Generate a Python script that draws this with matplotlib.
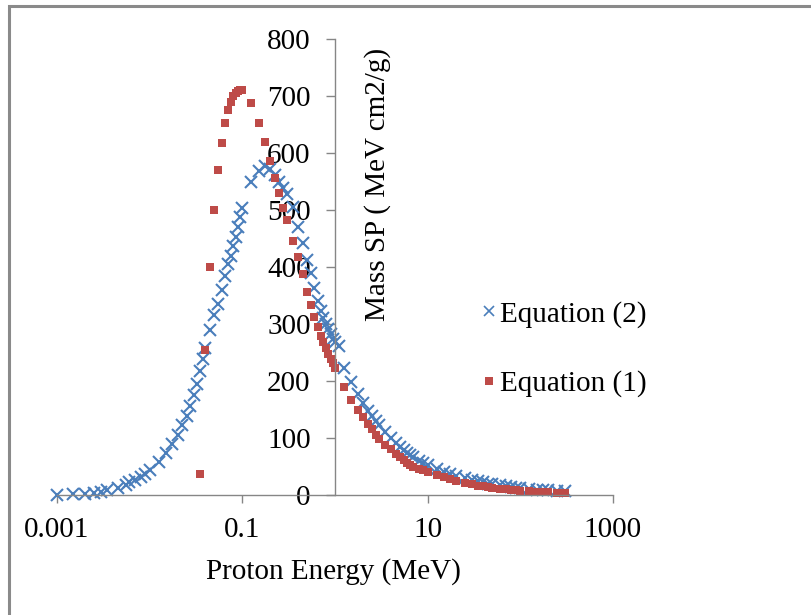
import matplotlib
matplotlib.use("Agg")
import matplotlib.pyplot as plt
from matplotlib.patches import Rectangle
from matplotlib.lines import Line2D

# Equation (2) - blue crosses
e2_energy = [0.001, 0.0015, 0.002, 0.0025, 0.003, 0.0035, 0.0045, 0.0055, 0.006, 0.007,
             0.008, 0.009, 0.01, 0.0125, 0.015, 0.0175, 0.02, 0.0225, 0.025, 0.0275,
             0.03, 0.0325, 0.035, 0.0375, 0.04, 0.045, 0.05, 0.055, 0.06, 0.065,
             0.07, 0.075, 0.08, 0.085, 0.09, 0.095, 0.1,
             0.125, 0.15, 0.175, 0.2, 0.225, 0.25, 0.275, 0.3, 0.35, 0.4,
             0.45, 0.5, 0.55, 0.6, 0.65, 0.7, 0.75, 0.8, 0.85, 0.9, 0.95, 1.0, 1.1,
             1.25, 1.5, 1.75, 2.0, 2.25, 2.5, 2.75, 3.0, 3.5, 4.0, 4.5, 5.0, 5.5,
             6.0, 6.5, 7.0, 8.0, 9.0, 10, 12.5, 15, 17.5, 20, 25, 30, 35, 40, 45,
             50, 60, 70, 80, 90, 100, 125, 150, 175, 200, 250, 300]
e2_sp = [0.5, 1, 2, 3, 5, 8, 12, 18, 22, 27,
         32, 37, 44, 58, 74, 90, 106, 122, 138, 156,
         175, 195, 218, 238, 258, 290, 315, 335, 360, 385,
         405, 420, 436, 452, 470, 487, 503,
         549, 568, 578, 572, 562, 549, 538, 528, 505, 470,
         442, 412, 389, 363, 340, 322, 310, 300, 291, 282, 274, 268, 262,
         223, 198, 177, 162, 148, 138, 130, 123, 110, 100, 92, 85, 79,
         74, 70, 66, 60, 56, 52, 46, 41, 37, 33, 29, 26, 24, 22, 20,
         19, 17, 15, 14, 13, 12, 10.5, 9.5, 8.8, 8, 7, 6.5]

# Equation (1) - red squares
e1_energy = [0.035, 0.04, 0.045, 0.05, 0.055, 0.06, 0.065, 0.07, 0.075, 0.08,
             0.085, 0.09, 0.095, 0.1, 0.125, 0.15, 0.175, 0.2, 0.225, 0.25,
             0.275, 0.3, 0.35, 0.4, 0.45, 0.5, 0.55, 0.6, 0.65, 0.7, 0.75, 0.8,
             0.85, 0.9, 0.95, 1.0, 1.25, 1.5, 1.75, 2.0, 2.25, 2.5, 2.75, 3.0,
             3.5, 4.0, 4.5, 5.0, 5.5, 6.0, 6.5, 7.0, 8.0, 9.0, 10, 12.5, 15,
             17.5, 20, 25, 30, 35, 40, 45, 50, 60, 70, 80, 90, 100, 125, 150,
             175, 200, 250, 300]
e1_sp = [37, 254, 400, 500, 570, 618, 653, 675, 690, 700,
         706, 709, 710, 710, 687, 652, 619, 586, 556, 530,
         503, 482, 445, 418, 388, 356, 333, 312, 295, 279, 268, 258,
         248, 239, 231, 223, 190, 167, 150, 136, 124, 115, 106, 99,
         88, 80, 72, 66, 61, 57, 53, 50, 46, 43, 41, 35, 31,
         28, 25, 21, 18.5, 16.5, 15, 13.8, 12.8, 11.2, 10, 9, 8.3, 7.6, 6.5, 5.7,
         5.1, 4.7, 4.0, 3.6]

blue = "#4A7EBB"
red = "#BE4B48"
grey = "#868686"
plt.rcParams["font.family"] = ["Liberation Serif", "DejaVu Serif"]

fig = plt.figure(figsize=(8.12, 6.15), dpi=100)
ax = fig.add_axes([57 / 812, 1 - 495 / 615, 556 / 812, 456 / 615])

ax.plot(e2_energy, e2_sp, linestyle="none", marker="x", markersize=8,
        markeredgewidth=1.5, color=blue, clip_on=False)
ax.plot(e1_energy, e1_sp, linestyle="none", marker="s", markersize=6.2,
        color=red, markeredgewidth=0, clip_on=False)

ax.set_xscale("log")
ax.set_xlim(0.001, 1000)
ax.set_ylim(0, 800)
ax.set_xticks([0.001, 0.1, 10, 1000])
ax.set_xticklabels(["0.001", "0.1", "10", "1000"])
ax.xaxis.set_minor_locator(matplotlib.ticker.NullLocator())
ax.set_yticks(range(0, 801, 100))

ax.spines["top"].set_visible(False)
ax.spines["right"].set_visible(False)
ax.spines["left"].set_position(("data", 1))
for s in ("left", "bottom"):
    ax.spines[s].set_color(grey)
    ax.spines[s].set_linewidth(1.0)
ax.tick_params(axis="x", direction="out", length=5.5, width=1.0, color=grey,
               labelsize=21, pad=10)
ax.tick_params(axis="y", direction="out", length=6.5, width=1.0, color=grey,
               labelsize=21, pad=11)

ax.set_xlabel("Proton Energy (MeV)", fontsize=21)
ax.xaxis.set_label_coords(0.497, -0.138)
ax.text(0.577, 0.68, "Mass SP ( MeV cm2/g)", transform=ax.transAxes,
        rotation=90, ha="center", va="center", fontsize=21)

handles = [Line2D([], [], linestyle="none", marker="x", markersize=7,
                  markeredgewidth=1.2, color=blue),
           Line2D([], [], linestyle="none", marker="s", markersize=5.5,
                  markeredgewidth=0, color=red)]
ax.legend(handles, ["Equation (2)", "Equation (1)"], frameon=False, fontsize=21,
          loc="center left", bbox_to_anchor=(467 / 812, 1 - 349 / 615),
          bbox_transform=fig.transFigure, handlelength=0.5, handletextpad=0.12,
          labelspacing=1.45, borderpad=0)

fig.patches.append(Rectangle((9 / 812, -0.05), 1.2, 1.05 - 6 / 615,
                             transform=fig.transFigure, fill=False,
                             edgecolor="#8a8a8a", linewidth=2.2))

fig.savefig("out.png", dpi=100)
